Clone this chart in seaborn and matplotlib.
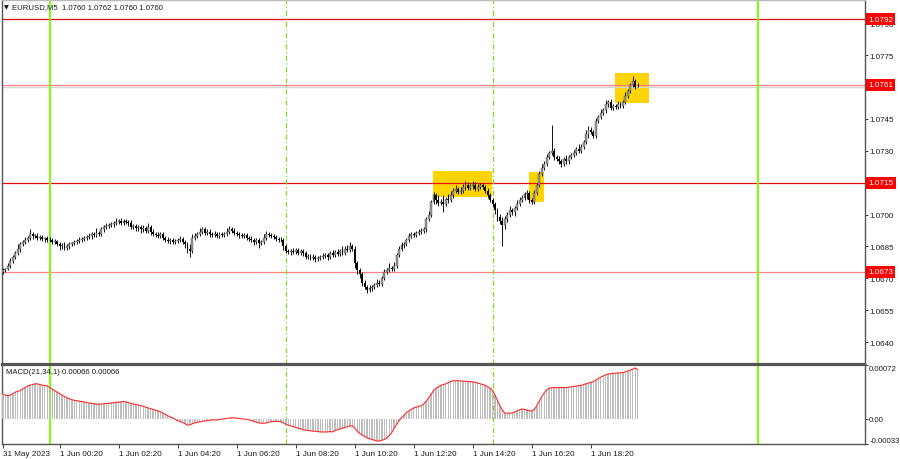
import numpy as np
import matplotlib
matplotlib.use("Agg")
import matplotlib.pyplot as plt
import matplotlib.transforms as mtransforms
import seaborn as sns

# EURUSD M5, one value per bar, 31 May 22:25 .. 1 Jun 19:55
first_open = 1.0673
closes = [
    1.0674, 1.06745, 1.0676, 1.0678, 1.0680, 1.0682, 1.0684, 1.0686, 1.0687, 1.0688, 1.0689, 1.0691, 1.0690,
    1.0690, 1.0689, 1.06895, 1.06885, 1.0689, 1.0688, 1.0688, 1.0687, 1.06875, 1.0686,
    1.0685, 1.06855, 1.06845, 1.0685, 1.0686, 1.06865, 1.0687, 1.06875, 1.0688, 1.06885, 1.0689, 1.06895,
    1.0690, 1.0691, 1.06905, 1.06915, 1.0691, 1.0693, 1.0694, 1.06945, 1.0695, 1.06955, 1.0696, 1.06965,
    1.0697, 1.0696, 1.0697, 1.06965, 1.0696,
    1.0694, 1.06945, 1.06935, 1.0694, 1.0693, 1.06935, 1.06925, 1.0694, 1.0692, 1.0691, 1.06905, 1.0690, 1.0691,
    1.0689, 1.0688, 1.06875, 1.0688, 1.0687, 1.06875, 1.0688, 1.06885, 1.0687, 1.0686, 1.0684, 1.0683,
    1.0689, 1.0690, 1.0691,
    1.0692, 1.0693, 1.06915, 1.0692, 1.0691, 1.06905, 1.0691, 1.0690, 1.0691, 1.06905, 1.0691, 1.0692,
    1.0693, 1.06925,
    1.06915, 1.0691, 1.06905, 1.0690, 1.06905, 1.0689, 1.06885, 1.0688, 1.0687, 1.0688, 1.06865, 1.0687,
    1.0689, 1.0691, 1.06905, 1.0690, 1.06895,
    1.06885, 1.0688, 1.0688, 1.0685, 1.0683, 1.06825, 1.0683, 1.06825, 1.06835, 1.0682, 1.0683, 1.0682,
    1.0680, 1.06805, 1.06795, 1.0680, 1.0679, 1.06795, 1.0680, 1.06805, 1.0681, 1.0680, 1.0682, 1.0681,
    1.06825, 1.06815, 1.0683, 1.0682, 1.0684, 1.06835, 1.0685, 1.0684,
    1.0677, 1.0674, 1.0672, 1.0668, 1.0666, 1.06645, 1.06655, 1.0666, 1.0667, 1.0668, 1.06675, 1.0670,
    1.0673, 1.0674, 1.0675, 1.06745, 1.0676,
    1.0681, 1.0684, 1.06855, 1.0686, 1.0688, 1.0690, 1.0691, 1.06905, 1.06915, 1.0692, 1.06925, 1.0693,
    1.0698, 1.0700, 1.0706, 1.0709,
    1.0707, 1.07055, 1.0706, 1.0705, 1.07075, 1.0707, 1.0709, 1.0711, 1.0712, 1.07105, 1.0711, 1.0713,
    1.0714, 1.07125, 1.07135, 1.0714, 1.0712, 1.0713, 1.0714,
    1.0713, 1.0711, 1.0709, 1.0707, 1.0705, 1.0702, 1.0699, 1.0697, 1.0695, 1.0698, 1.0700, 1.0702,
    1.0701, 1.0703, 1.0705, 1.0707, 1.0708, 1.07095, 1.0710, 1.0707, 1.0706, 1.0710,
    1.0714, 1.0719, 1.0722, 1.0724, 1.0727, 1.0729, 1.0730, 1.0727, 1.0726, 1.0725, 1.0724, 1.0726,
    1.0725, 1.0727, 1.0728, 1.0729, 1.0731, 1.0730, 1.0732, 1.0734,
    1.0738, 1.0740, 1.0739, 1.0737, 1.0744, 1.0746, 1.0748, 1.0749, 1.0752, 1.0753, 1.0750, 1.0751,
    1.07505, 1.0752, 1.0751, 1.0753, 1.0756, 1.0758, 1.0761, 1.0763, 1.0760, 1.0760,
]

# upper / lower shadow beyond the body, in pips
wick_up = [
    1, 0.5, 1, 1.5, 1, 1, 2, 1, 1, 1.5, 1, 2, 1, 1, 1.5, 1, 1, 0.5, 1, 1.5,
    1, 1, 0.5, 1, 1, 1.5, 1, 1, 0.5, 1, 1, 1.5, 1, 1, 1, 1.5, 1, 1, 2, 1,
    1, 1, 1.5, 1, 1, 1, 2, 1, 1.5, 1, 1, 1, 1.5, 1, 1, 1, 1, 1.5, 1, 2,
    1, 1, 1, 1.5, 1, 1, 1, 1.5, 1, 1, 1, 1, 1.5, 1, 1, 1, 2, 2, 1.5, 1,
    1.5, 1, 1, 1, 1, 1, 1.5, 1, 1, 1, 1, 1.5, 1.5, 1, 1, 1, 1, 1, 1, 1,
    1, 1.5, 1, 1, 1, 1, 2, 1.5, 1, 1, 1, 1, 1, 1.5, 1, 1, 1, 1, 1.5, 1,
    1, 1, 1, 1, 1, 1, 1.5, 1, 1, 1, 1.5, 1, 1, 1, 1.5, 1, 1.5, 1, 2, 1,
    1.5, 2, 1, 1, 1, 1, 1, 1, 1, 1.5, 1, 1, 1.5, 1, 1, 1.5, 1, 2, 1, 1.5,
    1, 1, 1.5, 1, 1, 1.5, 1, 1, 1, 1, 1, 1, 1, 1.5, 1, 1.5, 1, 2, 1.5, 3,
    1, 2, 2, 1.5, 2, 1, 2, 1.5, 2, 1.5, 1, 2, 1.5, 1.5, 1, 1, 1, 1.5, 1, 1,
    1, 1, 1.5, 2, 1.5, 1, 2, 1, 1, 2, 1.5, 1, 1, 1.5, 1, 1, 1.5, 1, 1.5, 2,
    1, 1.5, 1, 12, 1.5, 1, 1.5, 1, 1, 2, 1, 1, 1.5, 1, 2, 1, 1, 2, 1.5, 1,
    1, 1.5, 1, 1.5, 1, 2, 1, 1.5, 1, 1, 1.5, 1, 1, 1.5, 1, 1, 2, 1, 2,
]
wick_dn = [
    1, 1, 0.5, 1, 1, 1, 1, 1.5, 1, 1, 1, 1, 1.5, 1, 1, 1, 1, 1.5, 1, 1,
    1, 1, 1, 1.5, 1, 1, 1, 1, 1, 1, 1, 1, 1, 1, 1, 1, 1.5, 1, 1, 1,
    1, 1, 1, 1, 1, 1.5, 1, 1, 1, 1, 1, 1.5, 1, 1, 1, 1, 1.5, 1, 1, 1,
    1.5, 1, 1, 1, 1, 1, 1, 1, 1.5, 1, 1, 1, 1, 1, 1.5, 2, 3, 1, 1, 1,
    1, 1, 1, 1, 1.5, 1, 1, 1, 1, 1, 1, 1, 1, 1, 1, 1, 1.5, 1, 1, 1,
    1, 1, 1.5, 1, 2, 1, 1, 1, 1, 1, 1, 1, 1, 1, 1.5, 1, 1, 1.5, 1, 1,
    1, 1, 1.5, 1, 1, 1, 1, 1.5, 1, 1, 1, 1, 1.5, 1, 1, 1, 1, 1, 1, 1,
    1, 1, 1, 2, 2, 2, 1.5, 1, 1.5, 1, 1.5, 1, 1, 1, 1, 1, 1, 1, 1, 1,
    1, 1, 1, 1, 1, 1, 1, 1, 1, 1, 1, 1, 1, 1, 1, 1, 2, 1.5, 1, 4,
    1, 1.5, 1, 1, 1, 1, 1, 1, 1.5, 1, 1, 1.5, 1, 1, 1, 1, 1, 1, 1, 1.5,
    1.5, 2, 1.5, 10, 2, 1.5, 1, 1, 1.5, 1, 1, 1, 1, 2, 1.5, 1, 1, 1, 1, 1,
    1, 1, 1, 1, 1.5, 1, 1, 1.5, 1, 1, 1, 1, 1, 1, 1, 1, 1, 1, 2, 1,
    1, 1, 1, 1, 1, 1, 1.5, 1, 1, 1, 1, 1, 1, 1, 1, 1, 1, 1, 0,
]

# MACD(21,34,1) main value per bar, in units of 0.00001 (signal SMA 1 == main)
macd_pts = [
    33, 32, 31, 32, 34, 36, 37, 38, 40, 42, 44, 45, 46,
    47, 47, 46, 45, 45, 44, 42, 40, 38, 36, 34, 32, 30,
    28.5, 27, 26, 25, 24.5, 24, 23.5, 23, 22, 21.5, 21, 20.5, 20,
    20, 20, 20.5, 21, 21, 21.5, 22, 22.5, 22.5, 23, 23.5, 23, 22,
    21, 20, 19.5, 19, 18, 17, 16, 15, 14, 13, 12, 11, 10,
    8, 6.5, 4.5, 3, 1.5, 0, -2, -3, -4.5, -6, -8, -7.5, -6,
    -5, -4, -3.6, -3, -2.5, -2, -1.5, -1, -1, -1, -0.5, 0, 0.5,
    1, 1.5, 1.8, 1.8, 1.5, 1, 0.5, 0, 0, -1, -2, -3, -4,
    -5, -5.4, -5.4, -5, -4, -3.5, -3, -3, -3, -3.5, -5, -6.8, -8,
    -9, -10, -11, -12, -13, -14, -14.5, -15, -15.5, -16, -16, -16.5, -17,
    -17, -17, -17, -16.5, -17, -15, -14, -13, -12, -11, -10, -9, -9,
    -12, -16, -19, -21, -23, -25, -26, -27, -28, -29, -29, -28, -27,
    -25, -22, -18, -12, -7, -2, 2, 5, 9, 11, 13, 15, 16,
    17, 18, 20, 24, 28, 33, 38, 41, 43, 45, 46, 47, 48.5,
    50, 51, 51, 51, 51, 50.5, 50.5, 50, 50, 49.5, 49, 48, 47,
    46, 45, 43, 41, 38, 32, 25, 18, 12, 8, 8, 8, 8,
    9.5, 11, 12.5, 13.6, 13, 12, 11, 11, 13, 18, 24, 30, 35,
    39, 41, 42, 42, 42, 42, 42, 42, 42, 42.5, 43, 43.5, 44,
    44.5, 45, 46, 47, 48, 49, 50, 52, 54, 56, 57.5, 59, 60,
    60.5, 61, 61, 61.5, 61.5, 62, 63, 64, 65, 66.5, 68, 66,
]

levels_strong = [1.0792, 1.0715]
levels_light = [1.0761, 1.0673]
bid = 1.0760
# 1.0715 and 1.0760 sit under the red level labels, so they are not shown
price_ticks = [1.0640, 1.0655, 1.0670, 1.0685, 1.0700, 1.0730,
               1.0745, 1.0775, 1.0790]
macd_ticks = [0.00072, 0.0, -0.00033]
macd_tick_labels = ['0.00072', '0.00', '-0.00033']

time_bars = [0, 23, 47, 71, 95, 119, 143, 167, 191, 215, 239]
time_labels = ['31 May 2023', '1 Jun 00:20', '1 Jun 02:20', '1 Jun 04:20',
               '1 Jun 06:20', '1 Jun 08:20', '1 Jun 10:20', '1 Jun 12:20',
               '1 Jun 14:20', '1 Jun 16:20', '1 Jun 18:20']

day_bars = [19, 307]       # 1 Jun 00:00, 2 Jun 00:00
session_bars = [115, 199]  # 08:00, 15:00

# highlighted zones: (first bar, last bar, low, high)
zones = [(174.8, 198.8, 1.07083, 1.07205),
         (213.8, 219.9, 1.07059, 1.07200),
         (248.8, 262.6, 1.07525, 1.07666)]

sns.set_style("white")
plt.rcParams['font.family'] = ['Liberation Sans', 'DejaVu Sans']

fig = plt.figure(figsize=(9, 4.6), dpi=100)
ax = fig.add_axes([2 / 900, 95 / 460, 863 / 900, 364 / 460])
ax2 = fig.add_axes([2 / 900, 15 / 460, 863 / 900, 79 / 460])

c = np.array(closes)
o = np.r_[first_open, c[:-1]]
hi = np.maximum(o, c) + np.array(wick_up) * 1e-4
lo = np.minimum(o, c) - np.array(wick_dn) * 1e-4
x = np.arange(len(c))
up = c >= o
body = np.where(np.abs(c - o) < 2e-5, 2e-5, c - o)

# zones behind everything
for x0, x1, y0, y1 in zones:
    ax.add_patch(plt.Rectangle((x0, y0), x1 - x0, y1 - y0, color='#ffd400',
                               lw=0, zorder=1))

ax.axhline(bid, color='#d6d6d6', lw=1.0, zorder=1.5)
for lv in levels_strong:
    ax.axhline(lv, color='#e60f0f', lw=0.9, zorder=2)
for lv in levels_light:
    ax.axhline(lv, color='#ff8080', lw=0.9, zorder=2)

for a in (ax, ax2):
    for b in day_bars:
        a.axvline(b, color='#7cfc00', lw=1.4, zorder=2.5)
    for b in session_bars:
        a.axvline(b, color='#7ddc1f', lw=0.9, ls=(0, (4, 2, 1, 2)), zorder=2.5)

ax.vlines(x, lo, hi, color='#111111', lw=0.7, zorder=3)
ax.bar(x[up], body[up], bottom=o[up], width=0.78, color='#9a9a9a',
       edgecolor='#333333', lw=0.25, zorder=4)
ax.bar(x[~up], body[~up], bottom=o[~up], width=0.78, color='#000000', lw=0, zorder=4)

ax.set_xlim(-0.4, 350.4)
ax.set_ylim(1.062972, 1.080094)
ax.set_xticks([])
ax.yaxis.tick_right()
ax.set_yticks(price_ticks)
ax.set_yticklabels([f"{t:.4f}" for t in price_ticks])
ax.tick_params(axis='y', direction='out', length=2.5, width=0.6, pad=1,
               labelsize=5.8, colors='#1a1a1a', right=True)

trans = mtransforms.blended_transform_factory(ax.transAxes, ax.transData)
for lv in levels_strong + levels_light:
    ax.text(1.0035, lv, f"{lv:.4f}", transform=trans, ha='left', va='center',
            fontsize=5.9, color='white', clip_on=False, zorder=10,
            bbox=dict(boxstyle='square,pad=0.3', fc='#ff0000', ec='none'))

# MACD panel
macd = np.array(macd_pts) * 1e-5
ax2.bar(x, macd, width=0.55, color='#bdbdbd', lw=0, zorder=3)
sns.lineplot(x=x, y=macd, ax=ax2, color='#ff2a2a', lw=0.8, zorder=4)
ax2.set_xlim(-0.4, 350.4)
ax2.set_ylim(-0.00033, 0.00072)
ax2.yaxis.tick_right()
ax2.set_yticks(macd_ticks)
ax2.set_yticklabels(macd_tick_labels)
vas = ['top', 'center', 'bottom']
for lab, va in zip(ax2.get_yticklabels(), vas):
    lab.set_va(va)
ax2.tick_params(axis='y', direction='out', length=2.5, width=0.6, pad=0.5,
                labelsize=5.6, colors='#1a1a1a', right=True)
ax2.set_xticks(time_bars)
ax2.set_xticklabels(time_labels, ha='left')
ax2.tick_params(axis='x', direction='out', length=3, width=0.6, pad=1.5,
                labelsize=5.9, colors='#1a1a1a', bottom=True)
ax2.set_xlabel('')
ax2.set_ylabel('')

for a in (ax, ax2):
    for s in a.spines.values():
        s.set_color('#555555')
        s.set_linewidth(1.0)
ax.spines['bottom'].set_linewidth(1.6)
ax2.spines['top'].set_linewidth(1.6)
ax.spines['top'].set_color('#bbbbbb')

fig.text(4 / 900, 1 - 8 / 460, '\u25bc', fontsize=4.5, color='#111111',
         va='center', family='DejaVu Sans')
fig.text(12 / 900, 1 - 8 / 460, 'EURUSD,M5  1.0760 1.0762 1.0760 1.0760',
         fontsize=5.6, color='#1a1a1a', va='center')
ax2.text(4 / 863, 1 - 7 / 79, 'MACD(21,34,1) 0.00066 0.00066',
         transform=ax2.transAxes, fontsize=5.6, color='#1a1a1a', va='center')

fig.savefig('out.png', dpi=100)
